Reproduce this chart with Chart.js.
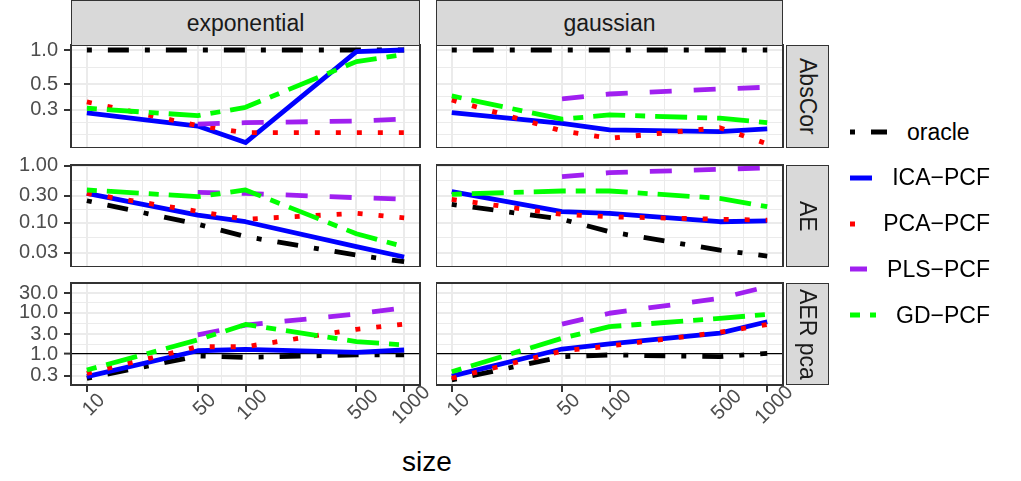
<!DOCTYPE html>
<html>
<head>
<meta charset="utf-8">
<script src="https://cdn.jsdelivr.net/npm/chart.js@4.4.1/dist/chart.umd.min.js"></script>
<style>
  body { margin: 0; background: #fff; font-family: "Liberation Sans", Arial, sans-serif; }
  #wrap { position: relative; width: 1021px; height: 481px; overflow: hidden; background: #fff; }
  canvas { position: absolute; }
  .strip {
    position: absolute; box-sizing: border-box; background: #d9d9d9;
    border: 1.5px solid #333; color: #1a1a1a; font-size: 23px;
    display: flex; align-items: center; justify-content: center;
  }
  .strip.side { writing-mode: vertical-rl; }
  .key { position: absolute; left: 850px; width: 140px; height: 30px; display: flex; align-items: center; }
  .key span { margin-left: 20px; font-size: 23px; color: #000; }
  #xtitle { position: absolute; left: 0; width: 854px; top: 446px; text-align: center; font-size: 28px; color: #000; }
</style>
</head>
<body>
<div id="wrap"><div id="xtitle">size</div></div>
<script>
// x positions and series names
const sizes = [10, 50, 100, 500, 1000];
const sizeLabels = ["10", "50", "100", "500", "1000"];
const methods = ["oracle", "ICA−PCF", "PCA−PCF", "PLS−PCF", "GD−PCF"];
const kernels = ["exponential", "gaussian"];
const metrics = ["AbsCor", "AE", "AER pca"];

// y ticks per row
const absCorTicks = [0.3, 0.5, 1.0];
const absCorLabels = ["0.3", "0.5", "1.0"];
const aeTicks = [0.03, 0.1, 0.3, 1.0];
const aeLabels = ["0.03", "0.10", "0.30", "1.00"];
const aerTicks = [0.3, 1, 3, 10, 30];
const aerLabels = ["0.3", "1.0", "3.0", "10.0", "30.0"];
const aerReference = 1;

// values, one row per method (oracle, ICA, PCA, PLS, GD); null = not run
const absCorExponential = [
  [1, 1, 1, 1, 1],
  [0.28, 0.215, 0.154, 0.966, 1.0],
  [0.35, 0.217, 0.188, 0.188, 0.188],
  [null, 0.224, 0.23, 0.238, 0.248],
  [0.308, 0.265, 0.314, 0.79, 0.916],
];
const absCorGaussian = [
  [1, 1, 1, 1, 1],
  [0.282, 0.227, 0.199, 0.192, 0.203],
  [0.364, 0.195, 0.168, 0.208, 0.15],
  [null, 0.372, 0.411, 0.455, 0.471],
  [0.395, 0.247, 0.269, 0.252, 0.23],
];
const aeExponential = [
  [0.243, 0.094, 0.057, 0.027, 0.0207],
  [0.327, 0.136, 0.104, 0.038, 0.025],
  [0.327, 0.158, 0.115, 0.146, 0.122],
  [null, 0.341, 0.327, 0.275, 0.26],
  [0.375, 0.286, 0.375, 0.064, 0.038],
];
const aeGaussian = [
  [0.21, 0.115, 0.0695, 0.033, 0.026],
  [0.35, 0.156, 0.146, 0.104, 0.108],
  [0.257, 0.14, 0.127, 0.115, 0.111],
  [null, 0.641, 0.754, 0.863, 0.92],
  [0.315, 0.36, 0.36, 0.268, 0.191],
];
const aerExponential = [
  [0.258, 0.895, 0.83, 0.95, 0.95],
  [0.282, 1.2, 1.3, 1.1, 1.25],
  [0.34, 1.5, 1.5, 3.96, 5.3],
  [null, 2.9, 5.0, 9.3, 13.2],
  [0.41, 2.2, 5.2, 2.0, 1.65],
];
const aerGaussian = [
  [0.235, 0.86, 0.95, 0.86, 1.04],
  [0.29, 1.32, 1.75, 3.2, 6.05],
  [0.258, 1.18, 1.56, 3.35, 5.2],
  [null, 5.3, 9.7, 22.3, 42.6],
  [0.37, 2.4, 4.6, 7.3, 9.1],
];

// styles
const colors = ["#000000", "#0000ff", "#ff0000", "#a020f0", "#00ff00"];
const dashes = [[5, 16, 21, 16], [], [5, 16], [22, 22], [10, 10, 32, 10]];
const FONT = '"Liberation Sans", Arial, sans-serif';

// layout of the facet grid
const PAD_TOP = 14; // room above each panel so the top tick label is not cut
const cols = [
  { left: 0, width: 436, padRight: 16, axisW: 71 },
  { left: 436, width: 364, padRight: 17, axisW: 0 },
];
const rows = [
  { top: 45, h: 103, min: 0.138, max: 1.106, ticks: absCorTicks, labels: absCorLabels, data: [absCorExponential, absCorGaussian] },
  { top: 165, h: 102, min: 0.0167, max: 1.029, ticks: aeTicks, labels: aeLabels, data: [aeExponential, aeGaussian] },
  { top: 283, h: 102, min: 0.1775, max: 52.4, ticks: aerTicks, labels: aerLabels, data: [aerExponential, aerGaussian], ref: aerReference },
];

// ggplot style minor breaks: log midpoints between majors
function withMinors(majors, min, max) {
  const lg = majors.map(Math.log10);
  const ext = [lg[0] - (lg[1] - lg[0]), ...lg, lg[lg.length - 1] + (lg[lg.length - 1] - lg[lg.length - 2])];
  const out = [];
  for (let i = 0; i < ext.length; i++) {
    out.push({ v: Math.pow(10, ext[i]), major: i > 0 && i < ext.length - 1 });
    if (i < ext.length - 1) out.push({ v: Math.pow(10, (ext[i] + ext[i + 1]) / 2), major: false });
  }
  return out.filter(t => t.v >= min * 0.9999 && t.v <= max * 1.0001);
}

const same = (a, b) => Math.abs(a - b) / b < 1e-6;

const frame = {
  id: "frame",
  afterDraw(chart, args, opts) {
    const { ctx, chartArea: a } = chart;
    ctx.save();
    ctx.strokeStyle = "#333";
    ctx.lineWidth = 2;
    ctx.strokeRect(a.left, a.top, a.width, a.height);
    if (opts.xLabels) {
      const sx = chart.scales.x;
      ctx.font = "20px " + FONT;
      ctx.fillStyle = "#4d4d4d";
      ctx.textAlign = "center";
      ctx.textBaseline = "middle";
      sizes.forEach((v, i) => {
        ctx.save();
        ctx.translate(sx.getPixelForValue(v) + 7, a.bottom + 20);
        ctx.rotate(-Math.PI / 4);
        ctx.fillText(sizeLabels[i], 0, 0);
        ctx.restore();
      });
    }
    ctx.restore();
  },
};

// no label overhang padding: the panel must fill its box exactly
function noPad(s) {
  s.paddingTop = 0;
  s.paddingBottom = 0;
  s.paddingLeft = 0;
  s.paddingRight = 0;
}

const wrap = document.getElementById("wrap");
const xMin = Math.pow(10, 0.9), xMax = Math.pow(10, 3.1);
const xGrid = withMinors(sizes, xMin, xMax);

rows.forEach((row, r) => {
  const bottom = r === rows.length - 1;
  const extraH = bottom ? 60 : 0;
  const yGrid = withMinors(row.ticks, row.min, row.max);
  cols.forEach((col, c) => {
    const cv = document.createElement("canvas");
    cv.width = col.width;
    cv.height = PAD_TOP + row.h + extraH;
    cv.style.left = col.left + "px";
    cv.style.top = (row.top - PAD_TOP) + "px";
    wrap.appendChild(cv);

    const values = row.data[c];
    const datasets = methods.map((m, k) => ({
      label: m,
      data: sizes.map((s, j) => ({ x: s, y: values[k][j] })).filter(p => p.y !== null),
      borderColor: colors[k],
      borderWidth: 4.8,
      borderDash: dashes[k],
      borderCapStyle: "butt",
      borderJoinStyle: "round",
      pointRadius: 0,
      fill: false,
      tension: 0,
      order: methods.length - k,
    }));

    new Chart(cv, {
      type: "line",
      data: { datasets },
      options: {
        responsive: false,
        animation: false,
        events: [],
        layout: { padding: { left: 0, right: col.padRight, top: PAD_TOP, bottom: 0 }, autoPadding: false },
        plugins: { legend: { display: false }, tooltip: { enabled: false }, frame: { xLabels: bottom } },
        scales: {
          x: {
            type: "logarithmic",
            min: xMin,
            max: xMax,
            bounds: "data",
            afterBuildTicks: s => { s.ticks = xGrid.map(t => ({ value: t.v, isMajor: t.major })); },
            afterFit: s => { s.height = extraH; noPad(s); },
            border: { display: false },
            grid: {
              color: "#ebebeb",
              lineWidth: ctx => (ctx.tick && ctx.tick.isMajor ? 2 : 1),
              drawTicks: bottom,
              tickLength: 7,
              tickWidth: 2,
              tickColor: ctx => (ctx.tick && ctx.tick.isMajor ? "#333" : "rgba(0,0,0,0)"),
            },
            ticks: { display: false, autoSkip: false },
          },
          y: {
            type: "logarithmic",
            min: row.min,
            max: row.max,
            bounds: "data",
            afterBuildTicks: s => { s.ticks = yGrid.map(t => ({ value: t.v, isMajor: t.major })); },
            afterFit: s => { s.width = col.axisW; noPad(s); },
            border: { display: false },
            grid: {
              color: ctx => (row.ref && ctx.tick && same(ctx.tick.value, row.ref) ? "#000" : "#ebebeb"),
              lineWidth: ctx => {
                if (row.ref && ctx.tick && same(ctx.tick.value, row.ref)) return 1.2;
                return ctx.tick && ctx.tick.isMajor ? 2 : 1;
              },
              drawTicks: c === 0,
              tickLength: 7,
              tickWidth: 2,
              tickColor: ctx => (ctx.tick && ctx.tick.isMajor ? "#333" : "rgba(0,0,0,0)"),
            },
            ticks: {
              display: c === 0,
              autoSkip: false,
              padding: 6,
              color: "#4d4d4d",
              font: { family: FONT, size: 20 },
              callback: v => {
                const i = row.ticks.findIndex(t => same(v, t));
                return i >= 0 ? row.labels[i] : "";
              },
            },
          },
        },
      },
      plugins: [frame],
    });
  });
});

// facet strips
const stripTop = [{ left: 71, width: 349 }, { left: 436, width: 347 }];
kernels.forEach((k, c) => {
  const d = document.createElement("div");
  d.className = "strip";
  Object.assign(d.style, { left: stripTop[c].left + "px", top: "0px", width: stripTop[c].width + "px", height: "46px" });
  d.textContent = k;
  wrap.appendChild(d);
});
metrics.forEach((m, r) => {
  const d = document.createElement("div");
  d.className = "strip side";
  Object.assign(d.style, { left: "786px", top: rows[r].top + "px", width: "43px", height: rows[r].h + "px" });
  d.textContent = m;
  wrap.appendChild(d);
});

// legend
methods.forEach((m, k) => {
  const d = document.createElement("div");
  d.className = "key";
  d.style.top = (117 + k * 45.8) + "px";
  d.innerHTML =
    '<svg width="37" height="10"><line x1="0" y1="5" x2="37" y2="5" stroke="' + colors[k] +
    '" stroke-width="5" stroke-dasharray="' + (dashes[k].length ? dashes[k].join(" ") : "none") + '"/></svg>' +
    "<span>" + m + "</span>";
  wrap.appendChild(d);
});
</script>
</body>
</html>
